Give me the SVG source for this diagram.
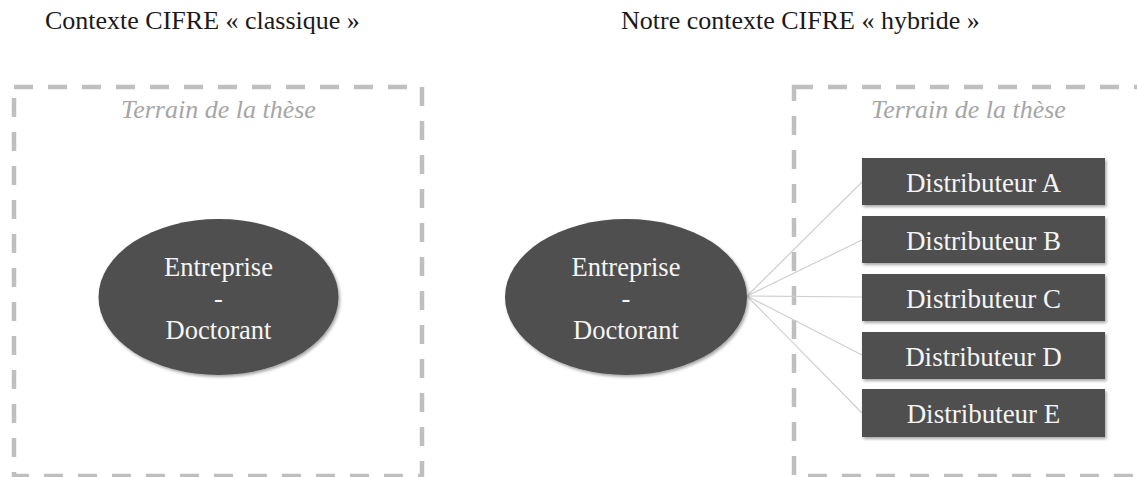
<svg xmlns="http://www.w3.org/2000/svg" width="1137" height="477" viewBox="0 0 1137 477">
<defs>
<style>
.head{font-family:"Liberation Serif","Times New Roman",serif;font-size:26px;fill:#1a1a1a}
.terr{font-family:"Liberation Serif","Times New Roman",serif;font-size:26px;font-style:italic;fill:#a6a6a6;text-anchor:middle}
.lbl{font-family:"Liberation Serif","Times New Roman",serif;font-size:26.5px;fill:#f5f5f5;text-anchor:middle}
.dl{font-size:27px}
.frame{fill:none;stroke:#bfbfbf;stroke-width:4.5;stroke-dasharray:19 15}
.shape{fill:#4f4f4f;filter:url(#sh)}
.conn{stroke:#cfcfcf;stroke-width:1.2;fill:none}
</style>
<filter id="sh" x="-10%" y="-10%" width="125%" height="130%">
<feDropShadow dx="1.5" dy="2" stdDeviation="1.6" flood-color="#000" flood-opacity="0.35"/>
</filter>
</defs>
<rect width="1137" height="477" fill="#ffffff"/>
<g id="headings">
<text class="head" x="45" y="29">Contexte CIFRE « classique »</text>
<text class="head" x="621" y="29">Notre contexte CIFRE « hybride »</text>
</g>
<g id="terrain-left">
<rect class="frame" x="14" y="87" width="408" height="389"/>
<text class="terr" x="218.5" y="118">Terrain de la thèse</text>
</g>
<g id="terrain-right">
<rect class="frame" x="794" y="87" width="400" height="389"/>
<text class="terr" x="968.5" y="118">Terrain de la thèse</text>
</g>
<g id="connectors">
<line class="conn" x1="747" y1="296" x2="862" y2="182"/>
<line class="conn" x1="747" y1="296" x2="862" y2="240"/>
<line class="conn" x1="747" y1="296" x2="862" y2="297"/>
<line class="conn" x1="747" y1="296" x2="862" y2="355"/>
<line class="conn" x1="747" y1="296" x2="862" y2="413"/>
</g>
<g id="ellipse-left">
<ellipse class="shape" cx="218.5" cy="297" rx="120" ry="78"/>
<text class="lbl" x="218.5" y="276">Entreprise</text>
<text class="lbl" x="218.5" y="307">-</text>
<text class="lbl" x="218.5" y="339">Doctorant</text>
</g>
<g id="ellipse-right">
<ellipse class="shape" cx="626" cy="297" rx="121" ry="78"/>
<text class="lbl" x="626" y="276">Entreprise</text>
<text class="lbl" x="626" y="307">-</text>
<text class="lbl" x="626" y="339">Doctorant</text>
</g>
<g id="dist-a">
<rect class="shape" x="862" y="158" width="243" height="47"/>
<text class="lbl dl" x="983.5" y="192">Distributeur A</text>
</g>
<g id="dist-b">
<rect class="shape" x="862" y="216" width="243" height="47"/>
<text class="lbl dl" x="983.5" y="250">Distributeur B</text>
</g>
<g id="dist-c">
<rect class="shape" x="862" y="274" width="243" height="47"/>
<text class="lbl dl" x="983.5" y="308">Distributeur C</text>
</g>
<g id="dist-d">
<rect class="shape" x="862" y="332" width="243" height="47"/>
<text class="lbl dl" x="983.5" y="366">Distributeur D</text>
</g>
<g id="dist-e">
<rect class="shape" x="862" y="389" width="243" height="48"/>
<text class="lbl dl" x="983.5" y="423">Distributeur E</text>
</g>
</svg>
